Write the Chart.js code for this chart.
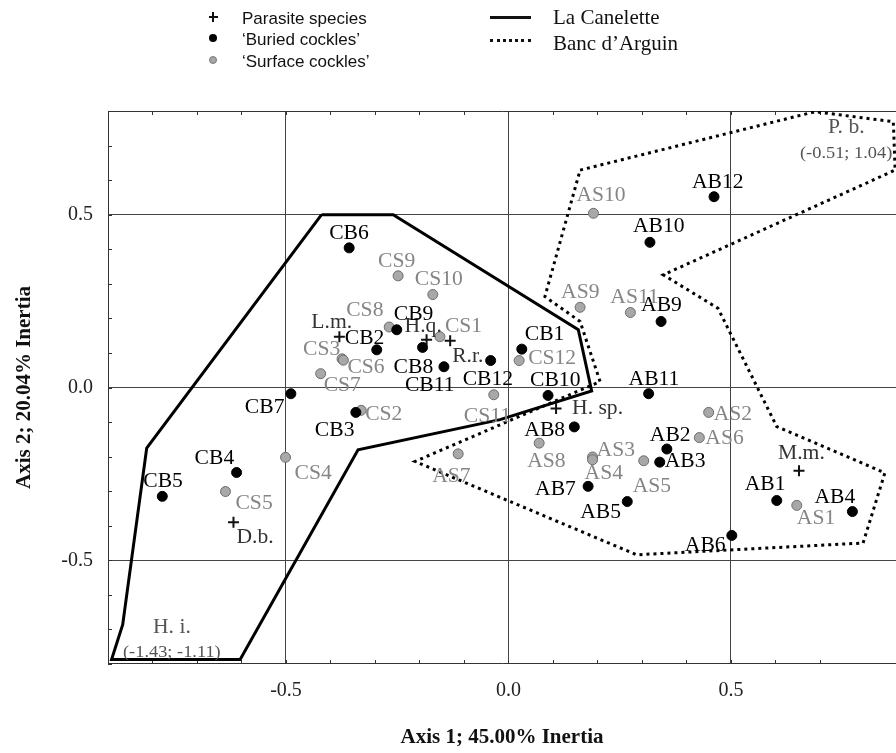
<!DOCTYPE html>
<html>
<head>
<meta charset="utf-8">
<script src="https://cdn.jsdelivr.net/npm/chart.js@4.4.0/dist/chart.umd.min.js"></script>
<style>
  html, body { margin: 0; background: #fff; overflow: hidden; }
  #wrap { position: relative; width: 896px; height: 753px; }
  .lg { position: absolute; white-space: nowrap; line-height: 1; }
  .sans { font: 17px "Liberation Sans", Arial, sans-serif; color: #111; }
  .serif { font: 21px "Liberation Serif", "Times New Roman", serif; color: #111; }
  .dot { position: absolute; width: 8px; height: 8px; border-radius: 50%; box-sizing: border-box; }
  .bar { position: absolute; background: #111; }
</style>
</head>
<body>
<div id="wrap">
  <canvas id="chart"></canvas>

  <!-- legend -->
  <div class="bar" style="left:209px;top:16px;width:9px;height:2px"></div>
  <div class="bar" style="left:212px;top:12px;width:2px;height:10px"></div>
  <div class="lg sans" style="left:242px;top:9px">Parasite species</div>
  <div class="dot" style="left:209px;top:34px;background:#000"></div>
  <div class="lg sans" style="left:242px;top:30px">‘Buried cockles’</div>
  <div class="dot" style="left:209px;top:56px;background:#a6a6a6;border:1px solid #7a7a7a"></div>
  <div class="lg sans" style="left:242px;top:52px">‘Surface cockles’</div>

  <div class="bar" style="left:490px;top:16px;width:41px;height:3px"></div>
  <div class="lg serif" style="left:553px;top:5px">La Canelette</div>
  <div style="position:absolute;left:490px;top:39px;width:41px;border-top:3px dotted #111"></div>
  <div class="lg serif" style="left:553px;top:31px">Banc d’Arguin</div>
</div>

<script>
// 'Buried cockles' (black dots)
const buriedNames = ['CB1','CB2','CB3','CB4','CB5','CB6','CB7','CB8','CB9','CB10','CB11','CB12',
                     'AB1','AB2','AB3','AB4','AB5','AB6','AB7','AB8','AB9','AB10','AB11','AB12'];
const buriedX = [0.030,-0.296,-0.343,-0.611,-0.778,-0.358,-0.489,-0.193,-0.251,0.089,-0.145,-0.040,
                 0.603,0.356,0.340,0.773,0.267,0.502,0.179,0.148,0.343,0.318,0.315,0.462];
const buriedY = [0.111,0.109,-0.072,-0.246,-0.315,0.404,-0.018,0.116,0.167,-0.023,0.060,0.078,
                 -0.327,-0.178,-0.216,-0.359,-0.330,-0.428,-0.286,-0.114,0.191,0.420,-0.018,0.552];

// 'Surface cockles' (grey dots)
const surfaceNames = ['CS1','CS2','CS3','CS4','CS5','CS6','CS7','CS8','CS9','CS10','CS11','CS12',
                      'AS1','AS2','AS3','AS4','AS5','AS6','AS7','AS8','AS9','AS10','AS11'];
const surfaceX = [-0.154,-0.331,-0.374,-0.501,-0.636,-0.371,-0.422,-0.268,-0.248,-0.170,-0.033,0.024,
                  0.648,0.450,0.189,0.189,0.304,0.429,-0.113,0.069,0.161,0.191,0.274];
const surfaceY = [0.147,-0.066,0.083,-0.202,-0.301,0.079,0.040,0.175,0.323,0.269,-0.021,0.078,
                  -0.341,-0.072,-0.201,-0.209,-0.212,-0.145,-0.192,-0.161,0.232,0.504,0.217];

// Parasite species (+)
const parasiteNames = ['L.m.','H.q.','R.r.','H. sp.','M.m.','D.b.'];
const parasiteX = [-0.380,-0.184,-0.131,0.107,0.653,-0.618];
const parasiteY = [0.147,0.138,0.135,-0.061,-0.241,-0.390];

// site envelopes
const caneletteX = [-0.420,-0.259,0.157,0.187,-0.019,-0.338,-0.603,-0.892,-0.867,-0.813];
const caneletteY = [0.500,0.500,0.167,-0.010,-0.093,-0.180,-0.787,-0.787,-0.686,-0.175];
const arguinX = [0.161,0.689,0.865,0.869,0.348,0.471,0.603,0.846,0.797,0.288,-0.210,0.206,0.161,0.082];
const arguinY = [0.629,0.798,0.769,0.629,0.326,0.229,-0.113,-0.247,-0.450,-0.484,-0.214,0.017,0.191,0.263];

// labelled ticks
const xTickLabels = [-0.5, 0.0, 0.5];
const yTickLabels = [-0.5, 0.0, 0.5];

// label placement, px from the marker to the text's left baseline
const labelOffsets = {
  CB1:[3,-9], CB2:[-32,-6], CB3:[-41,24], CB4:[-42,-9], CB5:[-19,-9], CB6:[-20,-9],
  CB7:[-46,19], CB8:[-29,26], CB9:[-3,-10], CB10:[-18,-9], CB11:[-39,24], CB12:[-28,24],
  AB1:[-32,-11], AB2:[-17,-8], AB3:[5,5], AB4:[-38,-9], AB5:[-47,16], AB6:[-47,16],
  AB7:[-53,9], AB8:[-50,9], AB9:[-20,-10], AB10:[-17,-10], AB11:[-20,-9], AB12:[-22,-9],
  CS1:[5,-5], CS2:[4,10], CS3:[-39,-4], CS4:[9,22], CS5:[10,17], CS6:[4,13],
  CS7:[3,17], CS8:[-43,-11], CS9:[-20,-9], CS10:[-18,-10], CS11:[-30,27], CS12:[9,3],
  AS1:[0,19], AS2:[5,8], AS3:[4,-1], AS4:[-8,19], AS5:[-11,31], AS6:[6,6],
  AS7:[-26,28], AS8:[-12,24], AS9:[-19,-9], AS10:[-17,-12], AS11:[-20,-9],
  'L.m.':[-28,-9], 'H.q.':[-22,-8], 'R.r.':[2,21], 'H. sp.':[16,5], 'M.m.':[-21,-12], 'D.b.':[3,21]
};

const toPoints = (xs, ys) => xs.map((x, i) => ({ x: x, y: ys[i] }));
const closed = (xs, ys) => { const p = toPoints(xs, ys); p.push(p[0]); return p; };
const isLabelled = (v, list) => list.some(t => Math.abs(t - v) < 1e-6);
const fmt = v => Math.abs(v) < 1e-9 ? '0.0' : v.toFixed(1);

const SERIF = '"Liberation Serif", "Times New Roman", serif';

function stretchText(ctx, txt, x, y, font, color) {
  ctx.save();
  ctx.font = font;
  ctx.fillStyle = color;
  ctx.textAlign = 'left';
  ctx.textBaseline = 'alphabetic';
  ctx.translate(x, y);
  ctx.scale(1.08, 1);
  ctx.fillText(txt, 0, 0);
  ctx.restore();
}

const framePlugin = {
  id: 'frame',
  beforeDatasetsDraw(chart) {
    const { ctx, chartArea: a, scales } = chart;
    ctx.save();
    ctx.strokeStyle = '#333';
    ctx.lineWidth = 1;
    ctx.beginPath();
    ctx.moveTo(a.right, a.top + 0.5); ctx.lineTo(a.left + 0.5, a.top + 0.5);
    ctx.lineTo(a.left + 0.5, a.bottom - 0.5); ctx.lineTo(a.right, a.bottom - 0.5);
    // small inward ticks
    scales.x.ticks.forEach(t => {
      const px = Math.round(scales.x.getPixelForValue(t.value)) + 0.5;
      ctx.moveTo(px, a.top); ctx.lineTo(px, a.top + 4);
      ctx.moveTo(px, a.bottom); ctx.lineTo(px, a.bottom - 4);
    });
    scales.y.ticks.forEach(t => {
      const py = Math.round(scales.y.getPixelForValue(t.value)) + 0.5;
      ctx.moveTo(a.left, py); ctx.lineTo(a.left + 4, py);
    });
    ctx.stroke();
    ctx.restore();
  }
};

const labelPlugin = {
  id: 'pointLabels',
  afterDatasetsDraw(chart) {
    const { ctx, chartArea: a } = chart;
    chart.data.datasets.forEach((ds, di) => {
      if (!ds.names) return;
      const meta = chart.getDatasetMeta(di);
      meta.data.forEach((el, i) => {
        const name = ds.names[i];
        const off = labelOffsets[name] || [5, -5];
        stretchText(ctx, name, el.x + off[0], el.y + off[1], '20px ' + SERIF, ds.labelColor);
      });
    });
    // species lying outside the plotted range
    stretchText(ctx, 'H. i.', a.left + 45, a.bottom - 31, '20px ' + SERIF, '#555');
    stretchText(ctx, '(-1.43; -1.11)', a.left + 15, a.bottom - 7, '17px ' + SERIF, '#555');
    stretchText(ctx, 'P. b.', a.right - 68, a.top + 22, '20px ' + SERIF, '#555');
    stretchText(ctx, '(-0.51; 1.04)', a.right - 96, a.top + 47, '17px ' + SERIF, '#555');
  }
};

const chart = new Chart(document.getElementById('chart'), {
  type: 'scatter',
  data: {
    datasets: [
      {
        label: 'Parasite species',
        data: toPoints(parasiteX, parasiteY),
        names: parasiteNames,
        labelColor: '#333',
        pointStyle: 'cross',
        pointRadius: 5.5,
        borderColor: '#111',
        borderWidth: 2,
        order: 1
      },
      {
        label: 'Buried cockles',
        data: toPoints(buriedX, buriedY),
        names: buriedNames,
        labelColor: '#000',
        pointRadius: 5,
        backgroundColor: '#000',
        borderColor: '#000',
        borderWidth: 1,
        order: 2
      },
      {
        label: 'Surface cockles',
        data: toPoints(surfaceX, surfaceY),
        names: surfaceNames,
        labelColor: '#858585',
        pointRadius: 5,
        backgroundColor: '#a8a8a8',
        borderColor: '#6c6c6c',
        borderWidth: 1,
        order: 3
      },
      {
        label: 'La Canelette',
        data: closed(caneletteX, caneletteY),
        showLine: true,
        pointRadius: 0,
        borderColor: '#000',
        borderWidth: 3,
        fill: false,
        order: 5
      },
      {
        label: 'Banc d’Arguin',
        data: closed(arguinX, arguinY),
        showLine: true,
        pointRadius: 0,
        borderColor: '#000',
        borderWidth: 3,
        borderDash: [3, 4],
        fill: false,
        order: 4
      }
    ]
  },
  options: {
    responsive: true,
    maintainAspectRatio: false,
    animation: false,
    layout: { autoPadding: false, padding: { top: 111, right: 0, bottom: 0, left: 0 } },
    plugins: {
      legend: { display: false },
      tooltip: { enabled: false }
    },
    scales: {
      x: {
        type: 'linear',
        min: -0.9,
        max: 0.871,
        afterFit: s => { s.height = 89; s.paddingLeft = 0; s.paddingRight = 0; },
        border: { display: false },
        grid: {
          drawTicks: false,
          lineWidth: 1,
          color: c => (c.tick && isLabelled(c.tick.value, xTickLabels)) ? '#444' : 'rgba(0,0,0,0)'
        },
        ticks: {
          stepSize: 0.1,
          autoSkip: false,
          maxRotation: 0,
          padding: 15,
          color: '#222',
          font: { family: SERIF, size: 20 },
          callback: v => isLabelled(v, xTickLabels) ? fmt(v) : ''
        },
        title: {
          display: true,
          text: 'Axis 1; 45.00% Inertia',
          color: '#111',
          font: { family: SERIF, size: 21, weight: 'bold' },
          padding: { top: 0, bottom: 3 }
        }
      },
      y: {
        type: 'linear',
        min: -0.8,
        max: 0.8,
        afterFit: s => { s.width = 108; s.paddingTop = 0; s.paddingBottom = 0; },
        border: { display: false },
        grid: {
          drawTicks: false,
          lineWidth: 1,
          color: c => (c.tick && isLabelled(c.tick.value, yTickLabels)) ? '#444' : 'rgba(0,0,0,0)'
        },
        ticks: {
          stepSize: 0.1,
          autoSkip: false,
          padding: 15,
          color: '#222',
          font: { family: SERIF, size: 20 },
          callback: v => isLabelled(v, yTickLabels) ? fmt(v) : ''
        },
        title: {
          display: true,
          text: 'Axis 2; 20.04% Inertia',
          color: '#111',
          font: { family: SERIF, size: 21, weight: 'bold' },
          padding: { top: 12, bottom: 0 }
        }
      }
    }
  },
  plugins: [framePlugin, labelPlugin]
});
</script>
</body>
</html>
